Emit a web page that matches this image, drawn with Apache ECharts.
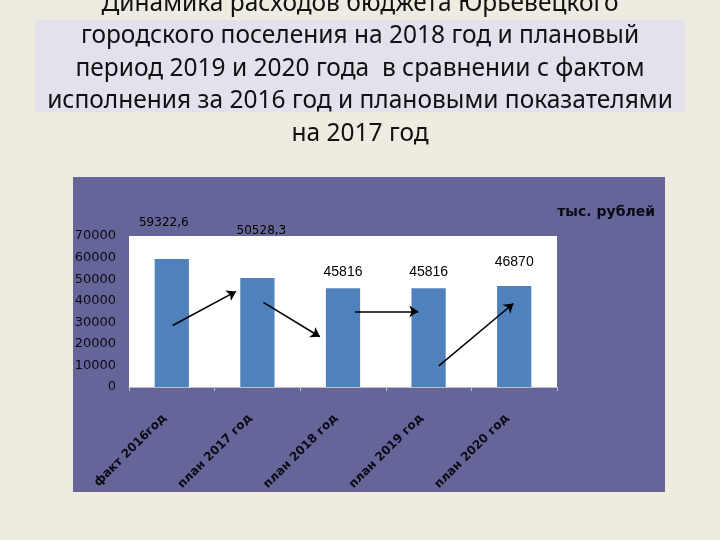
<!DOCTYPE html>
<html><head><meta charset="utf-8">
<script src="https://cdn.jsdelivr.net/npm/echarts@6/dist/echarts.min.js"></script>
<style>html,body{margin:0;padding:0;background:#EEECE1;}#c{width:720px;height:540px;}</style>
</head><body><div id="c"></div>
<script>
var categories = ['факт 2016год', 'план 2017 год', 'план 2018 год', 'план 2019 год', 'план 2020 год'];
var values = [59322.6, 50528.3, 45816, 45816, 46870];
var valueLabels = ['59322,6', '50528,3', '45816', '45816', '46870'];
var yTicks = [0, 10000, 20000, 30000, 40000, 50000, 60000, 70000];
var arrowFrom = [[0.01, 28500], [1.07, 39200], [2.14, 35000], [3.12, 9800]];
var arrowTo = [[0.75, 44300], [1.73, 23300], [2.88, 35000], [3.99, 38700]];
var titleLines = ['Динамика расходов бюджета Юрьевецкого', 'городского поселения на 2018 год и плановый', 'период 2019 и 2020 года  в сравнении с фактом', 'исполнения за 2016 год и плановыми показателями', 'на 2017 год'];
var unitText = 'тыс. рублей';

var labelOffsets = [[-8, -25], [4, -36], [0, -4], [0, -4], [0, -12]];
var labelFonts = [['DejaVu Sans', 12], ['DejaVu Sans', 12], ['Liberation Sans', 14], ['Liberation Sans', 14], ['Liberation Sans', 14]];

var chart = echarts.init(document.getElementById('c'), null, {renderer: 'canvas'});
var splitColors = yTicks.map(function (v) { return v === 60000 ? '#8C8C8C' : 'rgba(0,0,0,0)'; });

chart.setOption({
  backgroundColor: '#EEECE1',
  animation: false,
  graphic: [
    {type: 'rect', z: 0, shape: {x: 35, y: 20, width: 650, height: 92}, style: {fill: '#E4E0EC'}},
    {type: 'text', z: 1, x: 360, y: -12.5, style: {text: titleLines.join('\n'), textAlign: 'center', textVerticalAlign: 'top', font: '24.5px "Noto Sans"', lineHeight: 32.5, fill: '#111'}},
    {type: 'rect', z: 0, shape: {x: 73, y: 177, width: 592, height: 315}, style: {fill: '#656599'}},
    {type: 'text', z: 1, x: 655, y: 212, style: {text: unitText, textAlign: 'right', textVerticalAlign: 'middle', font: 'bold 14px "DejaVu Sans"', fill: '#0a0a14'}}
  ],
  grid: {left: 129, right: 163, top: 236, bottom: 153, show: true, backgroundColor: '#ffffff', borderWidth: 0, z: 1},
  xAxis: [{
    type: 'category', data: categories,
    axisLine: {show: true, lineStyle: {color: '#BFBFBF', width: 1}},
    axisTick: {show: true, alignWithLabel: false, length: 4, lineStyle: {color: '#BFBFBF'}},
    axisLabel: {rotate: 45, margin: 22, padding: [0, 10, 0, 0], interval: 0, color: '#0a0a14', fontWeight: 'bold', fontSize: 12, fontFamily: 'DejaVu Sans'},
    splitLine: {show: false}
  }, {
    type: 'value', min: -0.5, max: 4.5, show: false
  }],
  yAxis: {
    type: 'value', min: 0, max: 70000, interval: 10000,
    axisLine: {show: false}, axisTick: {show: false},
    axisLabel: {color: '#0a0a14', fontSize: 13, fontFamily: 'DejaVu Sans', margin: 13, formatter: function (v) { return String(v); }},
    splitLine: {show: true, lineStyle: {color: splitColors, width: 1}}
  },
  series: [{
    type: 'bar', xAxisIndex: 0, barWidth: '40%', z: 2,
    itemStyle: {color: '#4F81BD'},
    data: values.map(function (v, i) {
      return {value: v, label: {show: true, position: 'top', formatter: valueLabels[i], offset: labelOffsets[i], color: '#000', fontFamily: labelFonts[i][0], fontSize: labelFonts[i][1]}};
    })
  }, {
    type: 'lines', coordinateSystem: 'cartesian2d', xAxisIndex: 1, yAxisIndex: 0, z: 3,
    symbol: ['none', 'arrow'], symbolSize: 9,
    lineStyle: {color: '#000', width: 1.5, opacity: 1, curveness: 0},
    data: arrowFrom.map(function (f, i) { return {coords: [f, arrowTo[i]]}; })
  }]
});
</script></body></html>
